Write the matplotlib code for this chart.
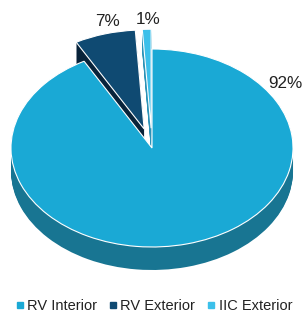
import numpy as np
import matplotlib
matplotlib.use("Agg")
from matplotlib import pyplot as plt
from matplotlib.lines import Line2D

plt.rcParams['font.family'] = ['Liberation Sans', 'DejaVu Sans']

# data (pie runs counter-clockwise from 12 o'clock)
labels = ['IIC Exterior', 'RV Exterior', 'RV Interior']
shares = [1, 7, 92]
explode = [0.2, 0.2, 0.0]
top_colors = ['#3cc0ea', '#0f4a72', '#1aa9d5']
side_colors = ['#2a93b8', '#08233a', '#187592']
legend_order = ['RV Interior', 'RV Exterior', 'IIC Exterior']

# percentage label positions (pixels from top-left)
pct_pos = {'IIC Exterior': (148, 20), 'RV Exterior': (108, 21), 'RV Interior': (285, 84)}

W, H = 306, 313
cx, cy = 152, 148      # pie centre, pixels
rx, ry = 141, 99       # ellipse radii, pixels
depth = 23             # side thickness, pixels

fig = plt.figure(figsize=(W / 100, H / 100), dpi=100)
ax = fig.add_axes([0, 0, 1, 1])

# side: stacked copies of the pie shifted down
for k in range(depth, 0, -1):
    ax.pie(shares, explode=explode, colors=side_colors, startangle=90,
           counterclock=True, center=(0, -k / ry), radius=1,
           wedgeprops=dict(linewidth=0), frame=True)

# top face
ax.pie(shares, explode=explode, colors=top_colors, startangle=90,
       counterclock=True, center=(0, 0), radius=1,
       wedgeprops=dict(linewidth=0.8, edgecolor='white'), frame=True)

ax.set_aspect('auto')
ax.set_xlim(-cx / rx, (W - cx) / rx)
ax.set_ylim(-(H - cy) / ry, cy / ry)
ax.axis('off')

#percentage labels
for lab, s in zip(labels, shares):
    px, py = pct_pos[lab]
    fig.text(px / W, 1 - py / H, f'{s}%', fontsize=12.3, color='#222222',
             ha='center', va='center')

handles = []
for name in legend_order:
    c = top_colors[labels.index(name)]
    handles.append(Line2D([], [], marker='s', linestyle='none', markersize=5,
                          markerfacecolor=c, markeredgecolor=c, label=name))
fig.legend(handles=handles, loc='center', bbox_to_anchor=(0.5, 1 - 306 / H),
           ncol=3, frameon=False, fontsize=10.5, handletextpad=0.1,
           columnspacing=0.7, handlelength=0.8, labelcolor='#222222')

fig.savefig('out.png', dpi=100)
